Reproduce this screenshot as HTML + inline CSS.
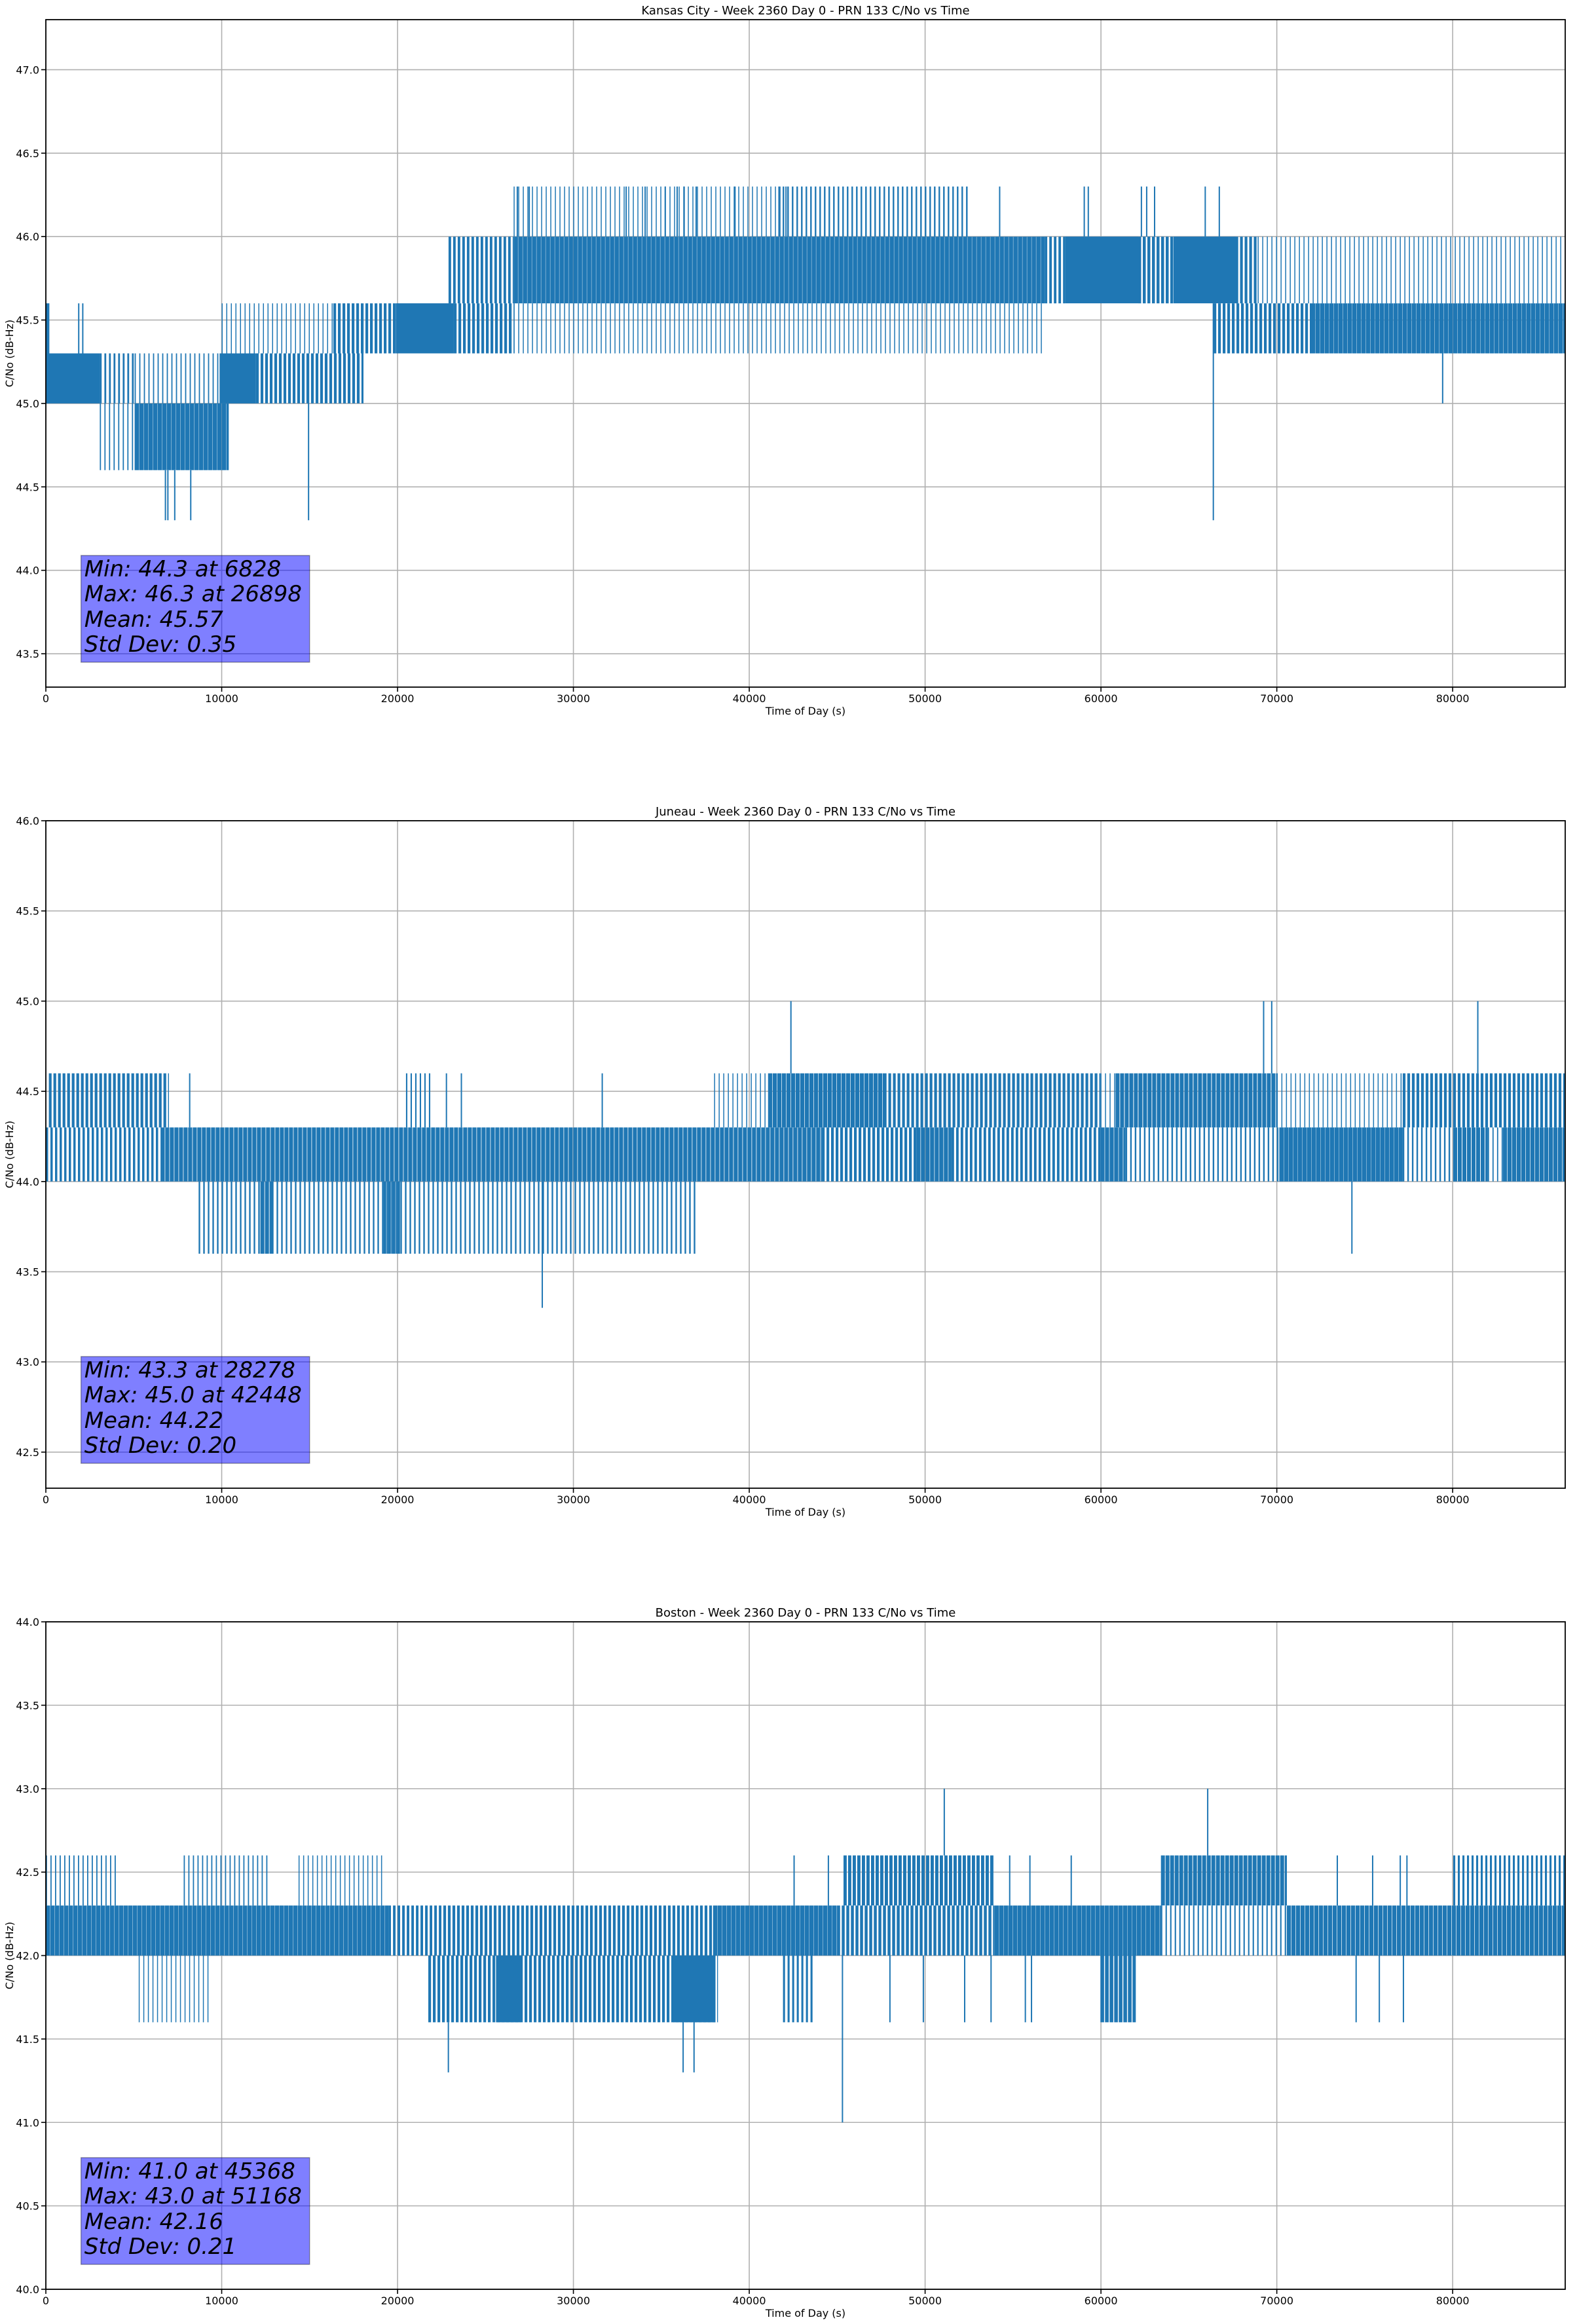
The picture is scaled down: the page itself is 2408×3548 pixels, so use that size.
<!DOCTYPE html>
<html><head><meta charset="utf-8">
<style>
html,body{margin:0;padding:0;background:#fff;}
svg{display:block;font-family:"DejaVu Sans","Liberation Sans",sans-serif;}
</style></head>
<body>
<svg id="fig" xmlns="http://www.w3.org/2000/svg" width="2408" height="3548" viewBox="0 0 2408 3548"></svg>
<script>
// ---------- data ----------
const panelTitles = ["Kansas City - Week 2360 Day 0 - PRN 133 C/No vs Time",
                     "Juneau - Week 2360 Day 0 - PRN 133 C/No vs Time",
                     "Boston - Week 2360 Day 0 - PRN 133 C/No vs Time"];
const yMins = [43.3, 42.3, 40.0];
const yMaxs = [47.3, 46.0, 44.0];
const xTicks = [0, 10000, 20000, 30000, 40000, 50000, 60000, 70000, 80000];
const statsText = [
  ["Min: 44.3 at 6828", "Max: 46.3 at 26898", "Mean: 45.57", "Std Dev: 0.35"],
  ["Min: 43.3 at 28278", "Max: 45.0 at 42448", "Mean: 44.22", "Std Dev: 0.20"],
  ["Min: 41.0 at 45368", "Max: 43.0 at 51168", "Mean: 42.16", "Std Dev: 0.21"]
];

// Kansas City
const kcBandStart = [0,0,3070,5050,5050,3070,9880,11950,10000,16350,19900,23200,22900,26600,56800,57970,62120,64130,67650,68910,26600,66400,71950,41900,26600];
const kcBandEnd   = [200,3070,5050,10000,10400,5050,11950,18060,16350,19900,23200,26600,26600,56800,57970,62120,64130,67650,68910,86400,56800,71950,86400,52500,41900];
const kcBandLo    = [45.0,45.0,45.0,45.0,44.6,44.6,45.0,45.0,45.3,45.3,45.3,45.3,45.6,45.6,45.6,45.6,45.6,45.6,45.6,45.6,45.3,45.3,45.3,46.0,46.0];
const kcBandHi    = [45.6,45.3,45.3,45.3,45.0,45.0,45.3,45.3,45.6,45.6,45.6,45.6,46.0,46.0,46.0,46.0,46.0,46.0,46.0,46.0,45.6,45.6,45.6,46.3,46.3];
const kcBandDensity = [1,1,0.4,0.25,0.95,0.25,1,0.6,0.15,0.6,1,0.6,0.55,0.95,0.55,1,0.65,1,0.6,0.1,0.1,0.6,0.95,0.35,0.06];
const kcSpikeT  = [26810,27490,33000,34080,35220,35900,36300,36980,39190,41690,42090,54240,59050,59280,62300,62600,63050,65930,66730,14940,6800,6940,7330,8240,66390,79430,1870,2100];
const kcSpikeLo = [46.0,46.0,46.0,46.0,46.0,46.0,46.0,46.0,46.0,46.0,46.0,46.0,46.0,46.0,46.0,46.0,46.0,46.0,46.0,44.3,44.3,44.3,44.3,44.3,44.3,45.0,45.3,45.3];
const kcSpikeHi = [46.3,46.3,46.3,46.3,46.3,46.3,46.3,46.3,46.3,46.3,46.3,46.3,46.3,46.3,46.3,46.3,46.3,46.3,46.3,45.3,44.6,44.6,44.6,44.6,45.6,45.3,45.6,45.6];

// Juneau
const jnBandStart = [170,20480,38000,41070,47650,59970,60830,70000,77160,0,6530,44130,49500,51500,59970,61400,70140,77160,80030,82000,82860,8690,12200,19200];
const jnBandEnd   = [7000,22040,41070,47650,59970,60830,70000,77160,86400,6530,44130,49500,51500,59970,61400,70140,77160,80030,82000,82860,86400,37090,12900,20200];
const jnBandLo    = [44.3,44.3,44.3,44.3,44.3,44.3,44.3,44.3,44.3,44.0,44.0,44.0,44.0,44.0,44.0,44.0,44.0,44.0,44.0,44.0,44.0,43.6,43.6,43.6];
const jnBandHi    = [44.6,44.6,44.6,44.6,44.6,44.6,44.6,44.6,44.6,44.3,44.3,44.3,44.3,44.3,44.3,44.3,44.3,44.3,44.3,44.3,44.3,44.0,44.0,44.0];
const jnBandDensity = [0.6,0.3,0.15,0.9,0.6,0.05,0.85,0.15,0.6,0.5,0.88,0.6,0.9,0.55,0.9,0.35,0.95,0.35,0.85,0.25,0.9,0.35,0.8,0.6];
const jnSpikeT  = [8180,22780,23630,31640,42370,69250,69710,81430,28230,74270];
const jnSpikeLo = [44.3,44.3,44.3,44.3,44.6,44.6,44.6,44.6,43.3,43.6];
const jnSpikeHi = [44.6,44.6,44.6,44.6,45.0,45.0,45.0,45.0,44.0,44.0];

// Boston
const bsBandStart = [0,7840,14370,45360,63410,80030,0,19480,22600,37940,45000,53950,63410,70570,5280,21750,25600,35670,41920,59970];
const bsBandEnd   = [4150,12670,19200,53950,70570,86400,19480,22600,37940,45000,53950,63410,70570,86400,9400,38220,27000,38080,43640,61980];
const bsBandLo    = [42.3,42.3,42.3,42.3,42.3,42.3,42.0,42.0,42.0,42.0,42.0,42.0,42.0,42.0,41.6,41.6,41.6,41.6,41.6,41.6];
const bsBandHi    = [42.6,42.6,42.6,42.6,42.6,42.6,42.3,42.3,42.3,42.3,42.3,42.3,42.3,42.3,42.0,42.0,42.0,42.0,42.0,42.0];
const bsBandDensity = [0.25,0.25,0.2,0.7,0.85,0.45,0.95,0.55,0.6,0.95,0.65,0.95,0.3,0.9,0.2,0.6,1,1,0.45,0.8];
const bsSpikeT  = [42550,44500,54810,55960,58310,73440,75450,77020,77400,51090,66070,22890,36240,36860,45300,48000,49900,52250,53750,55700,56050,74510,75830,77200];
const bsSpikeLo = [42.3,42.3,42.3,42.3,42.3,42.3,42.3,42.3,42.3,42.6,42.6,41.3,41.3,41.3,41.0,41.6,41.6,41.6,41.6,41.6,41.6,41.6,41.6,41.6];
const bsSpikeHi = [42.6,42.6,42.6,42.6,42.6,42.6,42.6,42.6,42.6,43.0,43.0,41.6,41.6,41.6,42.0,42.0,42.0,42.0,42.0,42.0,42.0,42.0,42.0,42.0];

// ---------- rendering ----------
const NS = "http://www.w3.org/2000/svg";
const svg = document.getElementById("fig");
const AX_L = 70, AX_R = 2390, AX_H = 1019;
const AX_TOPS = [30, 1253, 2476];
const X_MAX = 86400;
const LINE = "#1f77b4";
const STRIPE_PERIOD = 7;

function mk(tag, attrs, parent) {
  const e = document.createElementNS(NS, tag);
  for (const k in attrs) e.setAttribute(k, attrs[k]);
  (parent || svg).appendChild(e);
  return e;
}

const bandSets = [
  [kcBandStart, kcBandEnd, kcBandLo, kcBandHi, kcBandDensity],
  [jnBandStart, jnBandEnd, jnBandLo, jnBandHi, jnBandDensity],
  [bsBandStart, bsBandEnd, bsBandLo, bsBandHi, bsBandDensity]
];
const spikeSets = [
  [kcSpikeT, kcSpikeLo, kcSpikeHi],
  [jnSpikeT, jnSpikeLo, jnSpikeHi],
  [bsSpikeT, bsSpikeLo, bsSpikeHi]
];
const panelNames = ["kansas-city", "juneau", "boston"];

for (let p = 0; p < 3; p++) {
  const top = AX_TOPS[p], bot = top + AX_H;
  const ymin = yMins[p], ymax = yMaxs[p];
  const xs = t => AX_L + (t / X_MAX) * (AX_R - AX_L);
  const ys = v => bot - (v - ymin) / (ymax - ymin) * AX_H;

  const g = mk("g", {});
  
  

  // grid
  const grid = mk("g", {stroke: "#b0b0b0", "stroke-width": 1.6}, g);
  
  
  xTicks.forEach(t => {
    const x = xs(t);
    const l = mk("line", {x1: x, x2: x, y1: top, y2: bot}, grid);
    
    
  });
  const yTicks = [];
  for (let v = Math.ceil(ymin * 2 - 1e-9) / 2; v <= ymax + 1e-9; v += 0.5) yTicks.push(v);
  yTicks.forEach(v => {
    const y = ys(v);
    const l = mk("line", {x1: AX_L, x2: AX_R, y1: y, y2: y}, grid);
    
    
  });

  // series: bands drawn as dense vertical strokes (striped according to density)
  const series = mk("g", {fill: LINE}, g);
  
  
  const [bS, bE, bL, bH, bD] = bandSets[p];
  for (let i = 0; i < bS.length; i++) {
    const x0 = xs(bS[i]), x1 = xs(bE[i]);
    const y0 = ys(bH[i]), h = ys(bL[i]) - ys(bH[i]);
    if (bD[i] >= 0.97 || x1 - x0 < STRIPE_PERIOD) {
      const r = mk("rect", {x: x0, y: y0, width: Math.max(1.5, x1 - x0), height: h}, series);
      
      
      continue;
    }
    const bg = mk("g", {}, series);
    
    
    const w = Math.max(1.5, STRIPE_PERIOD * bD[i]);
    let d = "";
    for (let x = x0; x < x1; x += STRIPE_PERIOD) {
      const ww = Math.min(w, x1 - x);
      d += `M${x.toFixed(1)} ${y0.toFixed(1)}h${ww.toFixed(1)}v${h.toFixed(1)}h${(-ww).toFixed(1)}z`;
    }
    mk("path", {d: d}, bg);
  }
  const [sT, sL, sH] = spikeSets[p];
  for (let i = 0; i < sT.length; i++) {
    const l = mk("line", {x1: xs(sT[i]), x2: xs(sT[i]), y1: ys(sL[i]), y2: ys(sH[i]),
      stroke: LINE, "stroke-width": 2}, series);
    
    
  }

  // spines
  const sp = mk("rect", {x: AX_L, y: top, width: AX_R - AX_L, height: AX_H, fill: "none", stroke: "#000", "stroke-width": 1.8}, g);
  
  

  // x ticks
  xTicks.forEach(t => {
    const x = xs(t);
    const tk = mk("line", {x1: x, x2: x, y1: bot, y2: bot + 7, stroke: "#000", "stroke-width": 1.6}, g);
    
    
    const tx = mk("text", {x: x, y: bot + 23, "font-size": 16, "text-anchor": "middle", fill: "#000"}, g);
    tx.textContent = String(t);
    
    
  });
  // y ticks
  yTicks.forEach(v => {
    const y = ys(v);
    const tk = mk("line", {x1: AX_L - 7, x2: AX_L, y1: y, y2: y, stroke: "#000", "stroke-width": 1.6}, g);
    
    
    const tx = mk("text", {x: AX_L - 10, y: y + 6, "font-size": 16, "text-anchor": "end", fill: "#000"}, g);
    tx.textContent = v.toFixed(1);
    
    
  });

  // title & labels
  const ti = mk("text", {x: (AX_L + AX_R) / 2, y: top - 8, "font-size": 18, "text-anchor": "middle", fill: "#000"}, g);
  ti.textContent = panelTitles[p];
  
  
  const xl = mk("text", {x: (AX_L + AX_R) / 2, y: bot + 42, "font-size": 16, "text-anchor": "middle", fill: "#000"}, g);
  xl.textContent = "Time of Day (s)";
  
  
  const ymid = (top + bot) / 2;
  const yl = mk("text", {x: 20, y: ymid, "font-size": 16, "text-anchor": "middle", fill: "#000",
    transform: `rotate(-90 20 ${ymid})`}, g);
  yl.textContent = "C/No (dB-Hz)";
  
  

  // stats box
  const sb = mk("g", {}, g);
  
  
  const bx1 = xs(2000), bx2 = xs(15000);
  const br = mk("rect", {x: bx1, y: bot - 201, width: bx2 - bx1, height: 163, fill: "#0000ff", "fill-opacity": 0.5,
    stroke: "#000", "stroke-opacity": 0.35, "stroke-width": 1.5}, sb);
  
  
  const baselines = [-169, -131, -92, -54];
  statsText[p].forEach((s, i) => {
    const t = mk("text", {x: bx1 + 5, y: bot + baselines[i], "font-size": 34, "font-style": "italic", fill: "#000"}, sb);
    t.textContent = s;
    
    
  });
}
</script>
</body></html>
